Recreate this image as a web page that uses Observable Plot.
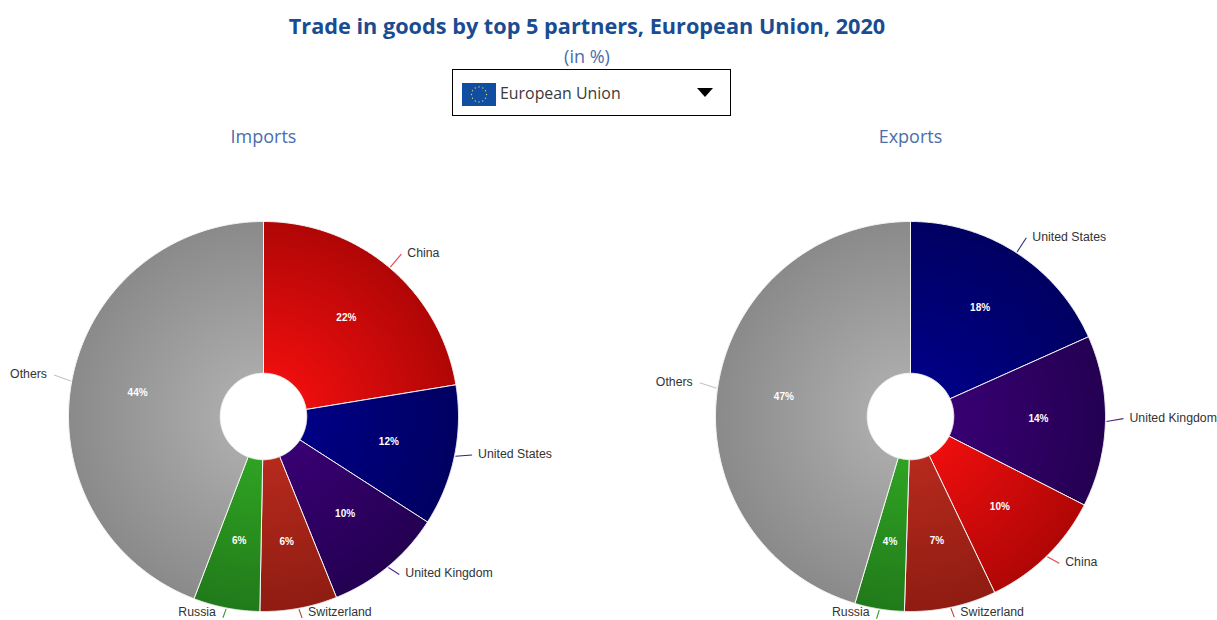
<!DOCTYPE html>
<html>
<head>
<meta charset="utf-8">
<script src="https://cdn.jsdelivr.net/npm/d3@7"></script>
<script src="https://cdn.jsdelivr.net/npm/@observablehq/plot@0.6"></script>
<style>
  html,body{margin:0;padding:0;background:#fff;overflow:hidden;width:1217px;height:620px}
  #head{position:relative;width:1217px;height:200px;font-family:"Open Sans",sans-serif}
  #head div{position:absolute;white-space:nowrap}
  #title{left:0;width:1174px;text-align:center;top:10px;font-size:21.7px;font-weight:700;color:#1a4c92;line-height:32px}
  #sub{left:0;width:1174px;text-align:center;top:44px;font-size:18px;color:#4a6dab;line-height:24px}
  #box{left:452px;top:69px;width:277px;height:45px;border:1px solid #000}
  #boxlabel{left:500px;top:81px;font-size:15.9px;color:#3a3a3a;line-height:24px}
  .pane{top:124px;font-size:18px;color:#4a6dab;line-height:24px;text-align:center;width:200px}
  #charts{display:flex;width:1217px;height:420px}
  #charts svg{display:block}
</style>
</head>
<body>
<div id="head">
  <div id="title">Trade in goods by top 5 partners, European Union, 2020</div>
  <div id="sub">(in %)</div>
  <div id="box"></div>
  <div id="flag" style="left:462px;top:83px;width:34px;height:23px"></div>
  <div id="boxlabel">European Union</div>
  <div id="caret" style="left:697px;top:88px;width:0;height:0;border-left:8.5px solid transparent;border-right:8.5px solid transparent;border-top:9px solid #000"></div>
  <div class="pane" style="left:163.5px">Imports</div>
  <div class="pane" style="left:810.5px">Exports</div>
</div>
<div id="charts"></div>
<script>
const importPartners = ["China", "United States", "United Kingdom", "Switzerland", "Russia", "Others"];
const importShares   = [22.4, 11.7, 9.8, 6.4, 5.5, 44.2];
const importLabels   = ["22%", "12%", "10%", "6%", "6%", "44%"];

const exportPartners = ["United States", "United Kingdom", "China", "Switzerland", "Russia", "Others"];
const exportShares   = [18.3, 14.2, 10.4, 7.6, 4.1, 45.4];
const exportLabels   = ["18%", "14%", "10%", "7%", "4%", "47%"];

const partnerKeys = ["China", "United States", "United Kingdom", "Switzerland", "Russia", "Others"];
const innerColors = ["#ff1010", "#00008f", "#3e007c", "#c22d20", "#33ae25", "#b4b4b4"];
const outerColors = ["#b00606", "#000062", "#240052", "#8f1c12", "#217a1a", "#8a8a8a"];
const lineColors  = ["#e8414a", "#1f2a80", "#4a2a86", "#b5453c", "#3a9a30", "#c4c4c4"];

const RADIUS_PX = 195, HOLE = 0.222, HEIGHT = 420, CENTER_Y = 216;

// flag
{
  const f = d3.select("#flag").append("svg").attr("width", 34).attr("height", 23).style("display", "block");
  f.append("rect").attr("width", 34).attr("height", 23).attr("fill", "#0f4ea0");
  d3.range(12).forEach(i => {
    const a = i * Math.PI / 6;
    f.append("circle").attr("cx", 17 + 7.5 * Math.cos(a)).attr("cy", 11.5 + 7.5 * Math.sin(a))
      .attr("r", 0.7).attr("fill", "#d8cf6a");
  });
}

function pie(id, partners, shares, labels, width, centerX) {
  const arcs = d3.pie().sort(null).value(d => d)(shares);
  const polar = (a, r, ry = r) => [r * Math.sin(a), ry * Math.cos(a)];
  const slice = (arc) => {
    const steps = d3.range(0, 181).map(i => arc.startAngle + (arc.endAngle - arc.startAngle) * i / 180);
    const pts = [...steps.map(a => polar(a, 1)), ...steps.slice().reverse().map(a => polar(a, HOLE))];
    pts.push(pts[0]);
    return pts;
  };
  const lowest = -(HEIGHT - CENTER_Y - 7) / RADIUS_PX; // keeps the bottom labels inside the picture
  const rows = partners.map((name, i) => {
    const m = (arcs[i].startAngle + arcs[i].endAngle) / 2, lower = Math.cos(m) < 0;
    const [x1, y1] = polar(m, 1.005);
    const [x2, yEnd] = polar(m, 213 / RADIUS_PX, (lower ? 205 : 213) / RADIUS_PX);
    const y2 = yEnd + (Math.abs(Math.cos(m)) < 0.3 ? 3 / RADIUS_PX : 0); // flatter connectors at the sides
    const [xp, yp] = polar(m, 128 / RADIUS_PX);
    return {name, label: labels[i], x1, y1, x2, y2, xp, yp, yt: Math.max(y2, lowest),
            color: lineColors[partnerKeys.indexOf(name)], right: Math.sin(m) >= 0};
  });
  const defs = (index, {x, y}) => {
    const d = d3.create("svg:defs");
    partnerKeys.forEach((k, i) => {
      const g = d.append("radialGradient").attr("id", `${id}-g${i}`)
        .attr("gradientUnits", "userSpaceOnUse")
        .attr("cx", x(0)).attr("cy", y(0)).attr("r", RADIUS_PX);
      g.append("stop").attr("offset", "0%").attr("stop-color", innerColors[i]);
      g.append("stop").attr("offset", "100%").attr("stop-color", outerColors[i]);
    });
    return d.node();
  };
  const font = "'Liberation Sans', Arial, sans-serif";
  const outer = {x: "x2", y: "yt", text: "name", dy: -1, fontFamily: font, fontSize: 12.3, fill: "#333"};
  return Plot.plot({
    width, height: HEIGHT,
    margin: 0,
    x: {domain: [-centerX / RADIUS_PX, (width - centerX) / RADIUS_PX], range: [0, width], axis: null},
    y: {domain: [-(HEIGHT - CENTER_Y) / RADIUS_PX, CENTER_Y / RADIUS_PX], range: [HEIGHT, 0], axis: null},
    style: {overflow: "hidden", background: "transparent"},
    marks: [
      defs,
      ...arcs.map((arc, i) => Plot.line(slice(arc), {
        x: d => d[0], y: d => d[1],
        fill: `url(#${id}-g${partnerKeys.indexOf(partners[i])})`,
        stroke: "#f4f4f4", strokeWidth: 1, strokeLinejoin: "round"
      })),
      Plot.link(rows, {x1: "x1", y1: "y1", x2: "x2", y2: "y2", stroke: "color", strokeWidth: 1.1}),
      Plot.text(rows.filter(d => d.right), {...outer, textAnchor: "start", dx: 6}),
      Plot.text(rows.filter(d => !d.right), {...outer, textAnchor: "end", dx: -7}),
      Plot.text(rows, {
        x: "xp", y: "yp", text: "label", dy: -1,
        fontFamily: font, fontSize: 10, fontWeight: 700, fill: "#fff"
      })
    ]
  });
}

const charts = document.getElementById("charts");
charts.append(pie("imp", importPartners, importShares, importLabels, 608, 263));
charts.append(pie("exp", exportPartners, exportShares, exportLabels, 609, 302));
</script>
</body>
</html>
